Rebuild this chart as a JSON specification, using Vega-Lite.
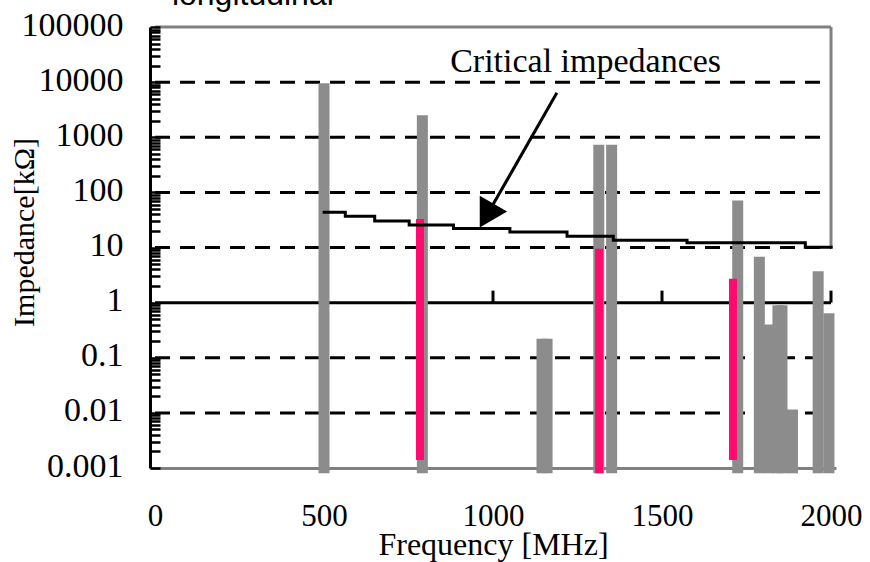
{
  "$schema": "https://vega.github.io/schema/vega-lite/v6.json",
  "width": 686,
  "height": 441,
  "autosize": {"type": "none"},
  "padding": {"left": 150, "top": 27, "right": 34, "bottom": 94},
  "background": "white",
  "config": {
    "view": {"stroke": null},
    "font": "Liberation Serif",
    "axis": {"titleFont": "Liberation Serif", "labelFont": "Liberation Serif", "titleFontWeight": "normal", "titleColor": "black", "labelColor": "black"}
  },
  "datasets": {
    "grid": [{"z": 10000}, {"z": 1000}, {"z": 100}, {"z": 10}, {"z": 0.1}, {"z": 0.01}],
    "xticks": [{"f": 500}, {"f": 1000}, {"f": 1500}, {"f": 2000}],
    "bars": [
      {"f": 500, "z": 9500},
      {"f": 791, "z": 2500},
      {"f": 1145, "z": 0.22},
      {"f": 1160, "z": 0.22},
      {"f": 1313, "z": 730},
      {"f": 1351, "z": 730},
      {"f": 1724, "z": 71},
      {"f": 1788, "z": 6.8},
      {"f": 1816, "z": 0.4},
      {"f": 1886, "z": 0.0115},
      {"f": 1843, "z": 0.9},
      {"f": 1855, "z": 0.9},
      {"f": 1962, "z": 3.7},
      {"f": 1994, "z": 0.64}
    ],
    "pink": [
      {"f": 784, "z": 33, "z0": 0.0014},
      {"f": 1314, "z": 9.5, "z0": 0.0008},
      {"f": 1710, "z": 2.7, "z0": 0.0014}
    ],
    "crit": [
      {"f": 496, "z": 43.4},
      {"f": 563, "z": 36.7},
      {"f": 650, "z": 30.4},
      {"f": 752, "z": 25.7},
      {"f": 883, "z": 22.2},
      {"f": 1050, "z": 19.2},
      {"f": 1219, "z": 16},
      {"f": 1356, "z": 13.5},
      {"f": 1574, "z": 12.2},
      {"f": 1924, "z": 10.1},
      {"f": 2005, "z": 10.1}
    ],
    "arrow": [{"f": 1189, "z": 6400, "f2": 1000, "z2": 60}],
    "head": [{"f": 981, "z": 38}],
    "note": [{"f": 1274, "z": 15400, "label": "Critical impedances"}],
    "heading": [{"f": 50, "z": 250000, "label": "longitudinal"}]
  },
  "layer": [
    {
      "data": {"name": "grid"},
      "mark": {"type": "rule", "color": "black", "strokeWidth": 3, "strokeDash": [15, 10]},
      "encoding": {
        "x": {"datum": 0, "type": "quantitative",
          "scale": {"type": "linear", "domain": [0, 2000], "nice": false, "zero": false},
          "axis": {
            "title": "Frequency [MHz]",
            "values": [0, 500, 1000, 1500, 2000],
            "format": "d",
            "labelFont": "Liberation Serif", "labelFontSize": 31, "labelColor": "black",
            "labelPadding": 33, "labelFlush": false, "ticks": false, "grid": false,
            "domainColor": "#808080", "domainWidth": 3,
            "titleFont": "Liberation Serif", "titleFontSize": 32, "titleFontWeight": "normal", "titleColor": "black",
            "titleY": 86, "titleBaseline": "alphabetic"
          }
        },
        "x2": {"datum": 2000},
        "y": {"field": "z", "type": "quantitative",
          "scale": {"type": "log", "domain": [0.001, 100000], "nice": false},
          "axis": {
            "title": "Impedance[kΩ]",
            "values": [0.001, 0.002, 0.003, 0.004, 0.005, 0.006, 0.007, 0.008, 0.009,
                       0.01, 0.02, 0.03, 0.04, 0.05, 0.06, 0.07, 0.08, 0.09,
                       0.1, 0.2, 0.3, 0.4, 0.5, 0.6, 0.7, 0.8, 0.9,
                       1, 2, 3, 4, 5, 6, 7, 8, 9,
                       10, 20, 30, 40, 50, 60, 70, 80, 90,
                       100, 200, 300, 400, 500, 600, 700, 800, 900,
                       1000, 2000, 3000, 4000, 5000, 6000, 7000, 8000, 9000,
                       10000, 20000, 30000, 40000, 50000, 60000, 70000, 80000, 90000, 100000],
            "format": "~f",
            "labelExpr": "abs(log(datum.value)/LN10 - round(log(datum.value)/LN10)) < 0.0001 ? datum.label : ''",
            "labelFont": "Liberation Serif", "labelFontSize": 34, "labelColor": "black",
            "labelPadding": 37, "labelOverlap": false, "labelFlush": false, "labelOffset": -2,
            "tickSize": -10, "tickWidth": 2.5, "tickColor": "black",
            "domainColor": "black", "domainWidth": 3, "grid": false, "zindex": 1,
            "titleFont": "Liberation Serif", "titleFontSize": 30, "titleFontWeight": "normal", "titleColor": "black",
            "titleX": -117, "titleY": 205, "titleAngle": -90, "titleAlign": "center", "titleBaseline": "alphabetic"
          }
        }
      }
    },
    {
      "data": {"values": [{"z": 1}]},
      "mark": {"type": "rule", "color": "black", "strokeWidth": 3},
      "encoding": {
        "x": {"datum": 0, "type": "quantitative"},
        "x2": {"datum": 2000},
        "y": {"field": "z", "type": "quantitative"}
      }
    },
    {
      "data": {"name": "xticks"},
      "mark": {"type": "rule", "color": "black", "strokeWidth": 3},
      "encoding": {
        "x": {"field": "f", "type": "quantitative"},
        "y": {"datum": 1, "type": "quantitative"},
        "y2": {"datum": 1.65}
      }
    },
    {
      "data": {"values": [{"z": 100000}]},
      "mark": {"type": "rule", "color": "#808080", "strokeWidth": 3},
      "encoding": {
        "x": {"datum": 0, "type": "quantitative"},
        "x2": {"datum": 2000},
        "y": {"field": "z", "type": "quantitative"}
      }
    },
    {
      "data": {"values": [{"f": 2000}]},
      "mark": {"type": "rule", "color": "#808080", "strokeWidth": 3},
      "encoding": {
        "x": {"field": "f", "type": "quantitative"},
        "y": {"datum": 10, "type": "quantitative"},
        "y2": {"datum": 100000}
      }
    },
    {
      "data": {"name": "bars"},
      "mark": {"type": "bar", "width": 11, "color": "#8c8c8c"},
      "encoding": {
        "x": {"field": "f", "type": "quantitative"},
        "y": {"field": "z", "type": "quantitative"},
        "y2": {"datum": 0.0008}
      }
    },
    {
      "data": {"name": "pink"},
      "mark": {"type": "bar", "width": 8, "color": "#ff0a6e"},
      "encoding": {
        "x": {"field": "f", "type": "quantitative"},
        "y": {"field": "z", "type": "quantitative"},
        "y2": {"field": "z0"}
      }
    },
    {
      "data": {"name": "crit"},
      "mark": {"type": "line", "color": "black", "strokeWidth": 3, "interpolate": "step-after"},
      "encoding": {
        "x": {"field": "f", "type": "quantitative"},
        "y": {"field": "z", "type": "quantitative"}
      }
    },
    {
      "data": {"name": "arrow"},
      "mark": {"type": "rule", "color": "black", "strokeWidth": 3},
      "encoding": {
        "x": {"field": "f", "type": "quantitative"},
        "y": {"field": "z", "type": "quantitative"},
        "x2": {"field": "f2"},
        "y2": {"field": "z2"}
      }
    },
    {
      "data": {"name": "head"},
      "mark": {"type": "point", "shape": "triangle-up", "filled": true, "color": "black", "opacity": 1, "size": 1000, "angle": 210},
      "encoding": {
        "x": {"field": "f", "type": "quantitative"},
        "y": {"field": "z", "type": "quantitative"}
      }
    },
    {
      "data": {"name": "note"},
      "mark": {"type": "text", "font": "Liberation Serif", "fontSize": 34, "color": "black", "align": "center", "baseline": "alphabetic"},
      "encoding": {
        "x": {"field": "f", "type": "quantitative"},
        "y": {"field": "z", "type": "quantitative"},
        "text": {"field": "label"}
      }
    },
    {
      "data": {"name": "heading"},
      "mark": {"type": "text", "font": "Liberation Sans", "fontSize": 32, "color": "black", "align": "left", "baseline": "alphabetic"},
      "encoding": {
        "x": {"field": "f", "type": "quantitative"},
        "y": {"field": "z", "type": "quantitative"},
        "text": {"field": "label"}
      }
    }
  ]
}
